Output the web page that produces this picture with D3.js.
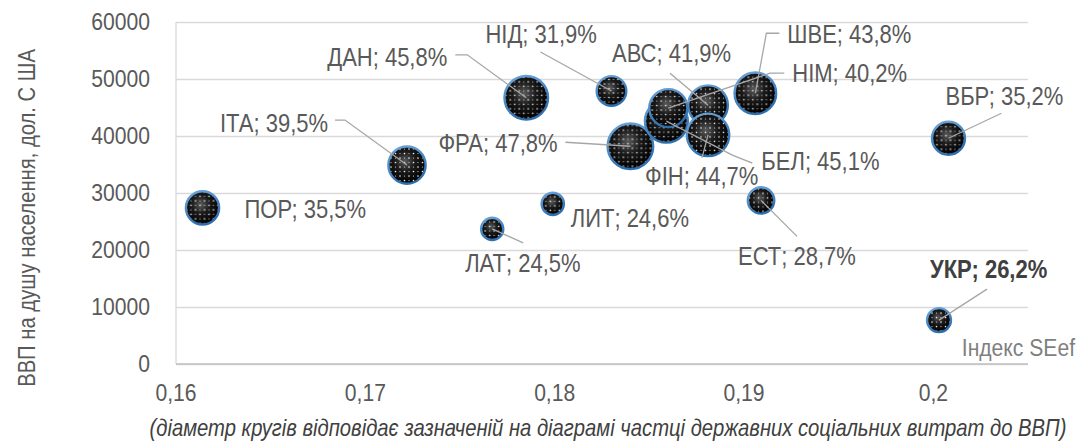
<!DOCTYPE html>
<html>
<head>
<meta charset="utf-8">
<script src="https://cdn.jsdelivr.net/npm/d3@7"></script>
<style>
  body { margin: 0; background: #fff; }
  svg text { font-family: "Liberation Sans", Arial, sans-serif; fill: #595959; }
</style>
</head>
<body>
<div id="wrapper"></div>
<script>
// countries, drawn in this order (later ones sit on top)
const countries = ["ПОР", "ІТА", "ЛАТ", "ЛИТ", "ДАН", "НІД", "ФРА", "БЕЛ", "АВС", "НІМ", "ФІН", "ШВЕ", "ЕСТ", "ВБР", "УКР"];
const seefIndex = [0.1614, 0.1722, 0.1767, 0.1799, 0.1785, 0.1830, 0.1840, 0.1859, 0.1881, 0.1860, 0.1881, 0.1906, 0.1909, 0.2008, 0.2003];
const gdpPerCapita = [27400, 34900, 23700, 28100, 46700, 47900, 38200, 42600, 45400, 44900, 40200, 47500, 28700, 39600, 7700];
const socialShare = [35.5, 39.5, 24.5, 24.6, 45.8, 31.9, 47.8, 45.1, 41.9, 40.2, 44.7, 43.8, 28.7, 35.2, 26.2];
const xTicks = [0.16, 0.17, 0.18, 0.19, 0.2];
const yTicks = [0, 10000, 20000, 30000, 40000, 50000, 60000];

// label placement relative to the bubble centre: text start + leader points
const labelLayout = {
  "ПОР": { t: [42, 10], lead: [] },
  "ІТА": { t: [-187, -33], lead: [[-72, -45], [-62, -45]] },
  "ЛАТ": { t: [-27, 43], lead: [[31, 14]] },
  "ЛИТ": { t: [18, 23], lead: [] },
  "ДАН": { t: [-199, -32], lead: [[-71, -43], [-59, -43]] },
  "НІД": { t: [-126, -48], lead: [[-71, -39]] },
  "ФРА": { t: [-192, 6], lead: [[-65, -4]] },
  "БЕЛ": { t: [95, 49], lead: [[86, 42], [66, 34]] },
  "АВС": { t: [-96, -43], lead: [[-38, -32]] },
  "НІМ": { t: [124, -26], lead: [[116, -35], [102, -35]] },
  "ФІН": { t: [-63, 50], lead: [[-6, 23]] },
  "ШВЕ": { t: [32, -50], lead: [[24, -60], [11, -60]] },
  "ЕСТ": { t: [-23, 65], lead: [[36, 36]] },
  "ВБР": { t: [-3, -33], lead: [[53, -25]] },
  "УКР": { t: [-9, -42], lead: [[48, -31]], bold: true }
};

const data = countries.map((c, i) => ({ name: c, x: seefIndex[i], y: gdpPerCapita[i], s: socialShare[i] }));

const width = 1085, height = 448;
const plot = { left: 176, right: 1028, top: 22, bottom: 364 };
const squeeze = 0.88; // the original uses a narrow face

const svg = d3.select("#wrapper").append("svg")
  .attr("width", width)
  .attr("height", height);

const xScale = d3.scaleLinear().domain([0.16, 0.205]).range([plot.left, plot.right]);
const yScale = d3.scaleLinear().domain([0, 60000]).range([plot.bottom, plot.top]);
const rScale = d3.scaleLinear().domain([0, 47.8]).range([0, 24]); // diameter ~ share

// defs: shiny black body, dotted overlay, blue rim
const defs = svg.append("defs");
const body = defs.append("radialGradient").attr("id", "body").attr("cx", "45%").attr("cy", "40%").attr("r", "60%");
body.append("stop").attr("offset", "0%").attr("stop-color", "#5a5a5a");
body.append("stop").attr("offset", "45%").attr("stop-color", "#1a1a1a");
body.append("stop").attr("offset", "100%").attr("stop-color", "#000");
const rim = defs.append("linearGradient").attr("id", "rim").attr("x1", "0").attr("y1", "0").attr("x2", "0.4").attr("y2", "1");
rim.append("stop").attr("offset", "0%").attr("stop-color", "#6fa8dc");
rim.append("stop").attr("offset", "100%").attr("stop-color", "#2e6fae");
const dots = defs.append("pattern").attr("id", "dots").attr("patternUnits", "userSpaceOnUse")
  .attr("width", 9).attr("height", 9);
dots.append("circle").attr("cx", 2).attr("cy", 2).attr("r", 0.8).attr("fill", "#fff");
dots.append("circle").attr("cx", 6.5).attr("cy", 6.5).attr("r", 0.8).attr("fill", "#fff");
dots.append("circle").attr("cx", 6.5).attr("cy", 2).attr("r", 0.6).attr("fill", "#ddd");
dots.append("circle").attr("cx", 2).attr("cy", 6.5).attr("r", 0.6).attr("fill", "#ddd");

// narrow text helper
function narrowText(parent, x, y, str, size, anchor) {
  return parent.append("text")
    .attr("transform", `translate(${x},${y}) scale(${squeeze},1)`)
    .attr("text-anchor", anchor || "start")
    .style("font-size", size + "px")
    .text(str);
}

// gridlines
svg.append("g")
  .attr("transform", `translate(${plot.left},0)`)
  .call(d3.axisLeft(yScale).tickValues(yTicks).tickSize(-(plot.right - plot.left)).tickFormat(""))
  .call(g => g.select(".domain").remove())
  .call(g => g.selectAll("line").attr("stroke", "#d9d9d9").attr("stroke-width", 1.3));

// axis lines
svg.append("line").attr("x1", plot.left).attr("x2", plot.left).attr("y1", plot.top).attr("y2", plot.bottom)
  .attr("stroke", "#d9d9d9").attr("stroke-width", 1.3);
svg.append("line").attr("x1", plot.left).attr("x2", plot.right).attr("y1", plot.bottom).attr("y2", plot.bottom)
  .attr("stroke", "#bfbfbf").attr("stroke-width", 1.3);

// y tick labels
const yLab = svg.append("g");
yTicks.forEach(t => narrowText(yLab, 150, yScale(t) + 8, String(t), 24, "end"));

// x tick labels
const xLab = svg.append("g");
xTicks.forEach(t => narrowText(xLab, xScale(t), 401, String(t).replace(".", ","), 24, "middle"));

// leader lines, drawn over the bubbles to their centres
const leaderPaths = data.filter(d => labelLayout[d.name].lead.length).map(d => {
  const cx = xScale(d.x), cy = yScale(d.y);
  return labelLayout[d.name].lead.map(p => [cx + p[0], cy + p[1]]).concat([[cx, cy]]);
});

// bubbles
const bubbles = svg.append("g")
  .selectAll("g")
  .data(data)
  .join("g")
  .attr("transform", d => `translate(${xScale(d.x)},${yScale(d.y)})`);
bubbles.append("circle").attr("r", d => rScale(d.s) - 1.2).attr("fill", "url(#body)");
bubbles.append("circle").attr("r", d => rScale(d.s) - 1.2).attr("fill", "url(#dots)");
bubbles.append("circle").attr("r", d => rScale(d.s) - 1.2)
  .attr("fill", "none").attr("stroke", "url(#rim)").attr("stroke-width", 2.4);

svg.append("g")
  .selectAll("path")
  .data(leaderPaths)
  .join("path")
  .attr("d", d3.line())
  .attr("fill", "none")
  .attr("stroke", "#a6a6a6")
  .attr("stroke-width", 1.3);

// data labels
const labels = svg.append("g");
data.forEach(d => {
  const L = labelLayout[d.name];
  const t = narrowText(labels, xScale(d.x) + L.t[0], yScale(d.y) + L.t[1],
    `${d.name}; ${String(d.s).replace(".", ",")}%`, 25, "start");
  if (L.bold) t.style("font-weight", "bold").style("fill", "#404040");
});

// axis captions
narrowText(svg, 1075, 356, "Індекс SEef", 24, "end").style("fill", "#7f7f7f");

svg.append("text")
  .attr("transform", `translate(35,218) rotate(-90) scale(${squeeze},1)`)
  .attr("text-anchor", "middle")
  .style("font-size", "23px")
  .text("ВВП на душу населення, дол. С ША");

narrowText(svg, 608, 436, "(діаметр кругів відповідає зазначеній на діаграмі частці державних соціальних витрат до ВВП)", 23, "middle")
  .style("font-style", "italic")
  .style("fill", "#404040");
</script>
</body>
</html>
